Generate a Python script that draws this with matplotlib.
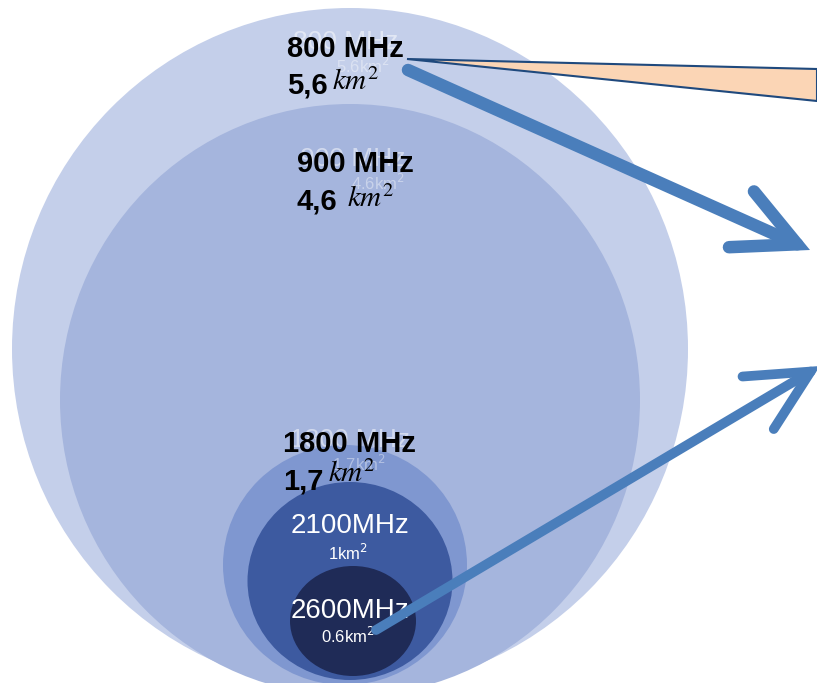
import matplotlib
matplotlib.use("Agg")
import matplotlib.pyplot as plt
from matplotlib.patches import Ellipse, Polygon, FancyArrowPatch

# frequency bands, coverage area (km2) and the circle drawn for each (pixel units)
bands = ['800 MHz', '900 MHz', '1800 MHz', '2100MHz', '2600MHz']
areas = ['5,6', '4,6', '1,7', '1', '0.6']
circle_cx = [350, 350, 345, 350, 353]
circle_cy = [349, 400, 565, 581, 621]
circle_w = [676, 580, 244, 205, 126]
circle_h = [682, 592, 240, 198, 110]
circle_col = ['#C4CFEA', '#A5B5DD', '#7F97D0', '#3D5AA0', '#1F2B57']

# black labels (bold band name + area) for the three low bands
lab_x = [287, 297, 283]
lab_y = [57, 172, 452]
area_y = [93, 210, 489]
km_x = [332, 347, 328]
km_y = [90, 207, 482]

# white labels inside the two small circles
white_lab = ['2100MHz', '2600MHz']
white_area = ['1km$^2$', '0.6km$^2$']
white_y = [533, 618]
white_area_y = [560, 643]

# callout and arrows
callout = [(407, 59), (817, 69), (817, 101)]
arrow1 = [(408, 70), (810, 250)]
arrow2 = [(376, 630), (820, 366)]
arrow_col = '#4A7EBB'

fig = plt.figure(figsize=(8.17, 6.83), dpi=100)
ax = fig.add_axes([0, 0, 1, 1])
ax.set_xlim(0, 817)
ax.set_ylim(683, 0)
ax.axis('off')

for i in range(len(bands)):
    ax.add_patch(Ellipse((circle_cx[i], circle_cy[i]), circle_w[i], circle_h[i],
                         facecolor=circle_col[i], edgecolor='none', zorder=1 + i))

# faint white labels from the original picture, under the black ones
faint_x = [293, 300, 290]
faint_y = [49, 166, 447]
for i in range(3):
    ax.text(faint_x[i], faint_y[i], bands[i], color='white', alpha=0.5, fontsize=19,
            family='Liberation Sans', va='baseline', zorder=10)
    ax.text(km_x[i] + 4, faint_y[i] + 24, areas[i].replace(',', '.') + 'km$^2$',
            color='white', alpha=0.4, fontsize=12, family='Liberation Sans',
            va='baseline', zorder=10)

for i in range(3):
    ax.text(lab_x[i], lab_y[i], bands[i], color='black', fontsize=21, fontweight='bold',
            family='Liberation Sans', va='baseline', zorder=11)
    ax.text(lab_x[i], area_y[i], areas[i], color='black', fontsize=21, fontweight='bold',
            family='Liberation Sans', va='baseline', zorder=11)
    ax.text(km_x[i], km_y[i], r'$km^2$', color='black', fontsize=21,
            math_fontfamily='stix', va='baseline', zorder=11)

for i in range(2):
    ax.text(350, white_y[i], white_lab[i], color='white', fontsize=20,
            family='Liberation Sans', ha='center', va='baseline', zorder=11)
    ax.text(348, white_area_y[i], white_area[i], color='white', fontsize=12,
            family='Liberation Sans', ha='center', va='baseline', zorder=11)

ax.add_patch(Polygon(callout, closed=True, facecolor='#FBD5B5', edgecolor='#1F497D',
                     linewidth=1.5, zorder=12))

for (p0, p1), lw in [(arrow1, 9), (arrow2, 7)]:
    ax.add_patch(FancyArrowPatch(p0, p1, arrowstyle='->,head_length=44,head_width=22',
                                 mutation_scale=1, color=arrow_col, linewidth=lw,
                                 capstyle='round', joinstyle='miter', zorder=13,
                                 shrinkA=0, shrinkB=0))

fig.savefig('out.png', dpi=100)
